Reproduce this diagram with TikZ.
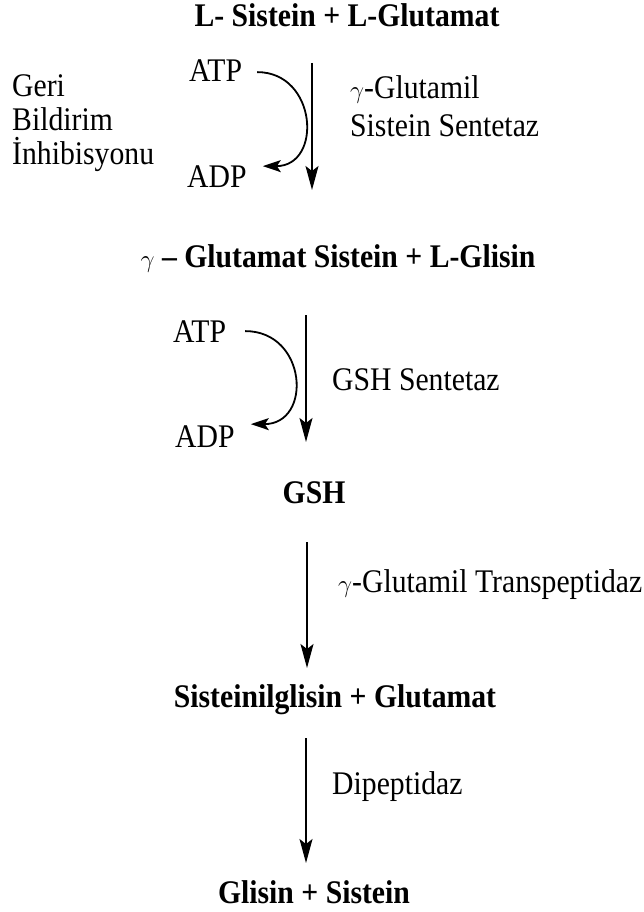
\documentclass[tikz,border=0pt]{standalone}
\usepackage{fontspec}
\setmainfont[FakeStretch=0.9]{Liberation Serif}
\usetikzlibrary{arrows.meta}

\tikzset{
  cmpd/.style={inner sep=0pt, anchor=base, font=\fontsize{33}{38}\selectfont\bfseries},
  lbl/.style={inner sep=0pt, anchor=base west, font=\fontsize{33}{38}\selectfont},
  rxn/.style={line width=1.5pt, -{Stealth[length=24pt,width=13pt,inset=5pt]}},
  cof/.style={line width=1.8pt, -{Stealth[length=18pt,width=12pt,inset=4pt]}}
}

\begin{document}
\begin{tikzpicture}[x=1pt, y=-1pt]
  \useasboundingbox (0,0) rectangle (643,912);
  % Compounds
  \node[cmpd] (sis)  at (347,27)  {L- Sistein + L-Glutamat};
  \node[cmpd] (gsis) at (338,267) {$\gamma$ -- Glutamat Sistein + L-Glisin};
  \node[cmpd] (gsh)  at (314,503) {GSH};
  \node[cmpd] (cysg) at (335,707) {Sisteinilglisin + Glutamat};
  \node[cmpd] (end)  at (314,903) {Glisin + Sistein};
  % Cofactors
  \node[lbl] (atpA) at (189,82)  {ATP};
  \node[lbl] (adpA) at (187,188) {ADP};
  \node[lbl] (atpB) at (173,342) {ATP};
  \node[lbl] (adpB) at (175,447) {ADP};
  % Enzymes
  \node[lbl] (enzA1) at (350,99)  {$\gamma$-Glutamil};
  \node[lbl] (enzA2) at (350,137) {Sistein Sentetaz};
  \node[lbl] (enzB)  at (332,390) {GSH Sentetaz};
  \node[lbl] (enzC)  at (338,592) {$\gamma$-Glutamil Transpeptidaz};
  \node[lbl] (enzD)  at (332,794) {Dipeptidaz};
  % Feedback note
  \node[lbl] (fbA) at (12,97)  {Geri};
  \node[lbl] (fbB) at (12,131) {Bildirim};
  \node[lbl] (fbC) at (12,165) {İnhibisyonu};
  % Reaction arrow ends
  \coordinate (rA1) at (312,63);
  \coordinate (rA2) at (312,190);
  \coordinate (rB1) at (306,315);
  \coordinate (rB2) at (306,442);
  \coordinate (rC1) at (307,542);
  \coordinate (rC2) at (307,668);
  \coordinate (rD1) at (306,738);
  \coordinate (rD2) at (306,863);
  % Reaction arrows
  \draw[rxn] (rA1) -- (rA2);
  \draw[rxn] (rB1) -- (rB2);
  \draw[rxn] (rC1) -- (rC2);
  \draw[rxn] (rD1) -- (rD2);
  % ATP -> ADP
  \draw[cof] ([xshift=15pt,yshift=-1pt]atpA.east) .. controls +(60,0) and +(60,0) .. ([xshift=16pt,yshift=11pt]adpA.east);
  \draw[cof] ([xshift=19pt]atpB.east) .. controls +(62,0) and +(62,0) .. ([xshift=16pt,yshift=12pt]adpB.east);
\end{tikzpicture}
\end{document}
